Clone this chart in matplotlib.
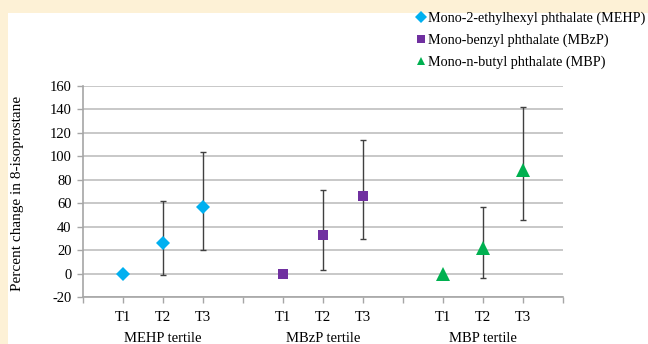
import numpy as np
import matplotlib.pyplot as plt
from matplotlib.patches import Rectangle
from matplotlib.transforms import blended_transform_factory

plt.rcParams['font.family'] = ['Liberation Serif', 'DejaVu Serif']
plt.rcParams['axes.unicode_minus'] = False

# data (percent change, with 95% CI ends)
tertiles = ['T1', 'T2', 'T3']
groups = ['MEHP tertile', 'MBzP tertile', 'MBP tertile']
series_names = ['Mono-2-ethylhexyl phthalate (MEHP)',
                'Mono-benzyl phthalate (MBzP)',
                'Mono-n-butyl phthalate (MBP)']
x_pos = [[1, 2, 3], [5, 6, 7], [9, 10, 11]]
est = [[0, 26, 56.5], [0, 33, 66], [0, 22, 88]]
lower = [[0, -1, 20], [0, 3, 29.5], [0, -4, 46]]
upper = [[0, 61.5, 104], [0, 71, 114], [0, 56.5, 142.5]]

colors = ['#00B0F0', '#7030A0', '#00B050']
markers = ['D', 's', '^']
msizes = [7.5, 7, 9.5]

fig = plt.figure(figsize=(6.48, 3.44), dpi=100)
fig.patch.set_facecolor('#FDF1D6')
fig.add_artist(Rectangle((8 / 648, 0), 1, 1 - 13 / 344, transform=fig.transFigure,
                         facecolor='white', edgecolor='none', zorder=0))

ax = fig.add_axes([82.7 / 648, 47 / 344, 480 / 648, 211 / 344])
ax.set_facecolor('none')

handles = []
for i in range(3):
    e = np.array(est[i])
    yerr = [e - np.array(lower[i]), np.array(upper[i]) - e]
    has_err = np.array(upper[i]) != np.array(lower[i])
    ax.errorbar(np.array(x_pos[i])[has_err], e[has_err],
                yerr=[yerr[0][has_err], yerr[1][has_err]],
                fmt='none', ecolor='#404040', elinewidth=1.0,
                capsize=2.5, capthick=1.0, zorder=3)
    h, = ax.plot(x_pos[i], e, linestyle='none', marker=markers[i],
                 color=colors[i], markersize=msizes[i], markeredgewidth=0,
                 zorder=4)
    handles.append(h)

ax.set_xlim(0, 12)
ax.set_ylim(-20, 160)
ax.set_yticks(np.arange(-20, 161, 20))
ax.set_xticks(range(13))
xlabels = [''] * 13
for i in range(3):
    for j in range(3):
        xlabels[x_pos[i][j]] = tertiles[j]
ax.set_xticklabels(xlabels)

ax.grid(axis='y', color='#BFBFBF', linewidth=1.2)
ax.set_axisbelow(True)
for s in ['top', 'right']:
    ax.spines[s].set_visible(False)
for s in ['left', 'bottom']:
    ax.spines[s].set_color('#A6A6A6')
    ax.spines[s].set_linewidth(1.2)
ax.tick_params(axis='both', color='#A6A6A6', length=4, width=1.0,
               labelsize=10.5, labelcolor='black')
ax.tick_params(axis='x', pad=6)
ax.tick_params(axis='y', pad=4)

trans = blended_transform_factory(ax.transData, ax.transAxes)
for i in range(3):
    ax.text(x_pos[i][1], -0.195, groups[i], transform=trans, ha='center',
            va='center', fontsize=10.5)

fig.text(18 / 648, 1 - 193 / 344, 'Percent change in 8-isoprostane',
         rotation=90, ha='center', va='center', fontsize=11)

leg = fig.legend(handles, series_names, loc='upper left',
                 bbox_to_anchor=(410 / 648, 1 - 6 / 344), frameon=False,
                 fontsize=10.2, handlelength=0.8, handletextpad=0.1,
                 labelspacing=0.6, borderaxespad=0)
for h in leg.legend_handles:
    h.set_markersize(6)

fig.savefig('out.png', dpi=100, facecolor=fig.get_facecolor())
